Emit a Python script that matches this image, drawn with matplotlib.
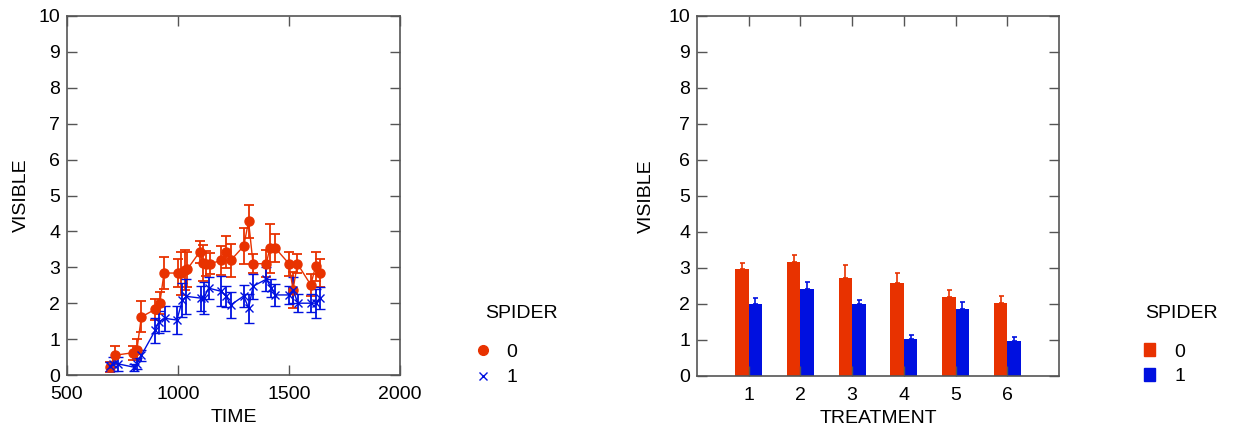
import numpy as np
import matplotlib
matplotlib.use("Agg")
import matplotlib.pyplot as plt
from matplotlib.lines import Line2D
from matplotlib.patches import Patch

plt.rcParams['font.family'] = ['Liberation Sans', 'DejaVu Sans']

RED = "#E83200"
BLUE = "#0010E0"

# ---- left panel: VISIBLE vs TIME, by SPIDER ----
time_0 = [692, 715, 797, 815, 835, 898, 918, 937, 1000, 1015, 1030, 1041, 1098, 1113,
          1128, 1143, 1195, 1218, 1237, 1296, 1318, 1338, 1398, 1413, 1439, 1500, 1518,
          1538, 1598, 1620, 1638]
vis_0 = [0.22, 0.55, 0.62, 0.71, 1.62, 1.83, 2.00, 2.84, 2.84, 2.84, 2.92, 2.94, 3.43, 3.12,
         3.10, 3.10, 3.19, 3.43, 3.19, 3.59, 4.28, 3.10, 3.10, 3.53, 3.53, 3.10, 2.37,
         3.10, 2.51, 3.03, 2.84]
err_0 = [0.15, 0.25, 0.20, 0.30, 0.43, 0.30, 0.30, 0.45, 0.40, 0.60, 0.55, 0.50, 0.30, 0.50,
         0.35, 0.30, 0.40, 0.45, 0.45, 0.50, 0.46, 0.26, 0.37, 0.69, 0.39, 0.33, 0.50,
         0.26, 0.30, 0.40, 0.40]

time_1 = [692, 707, 730, 800, 815, 835, 898, 913, 940, 995, 1020, 1038, 1105, 1116, 1138,
          1195, 1218, 1237, 1296, 1318, 1338, 1398, 1420, 1439, 1500, 1518, 1540, 1601,
          1620, 1638]
vis_1 = [0.24, 0.31, 0.31, 0.22, 0.31, 0.55, 1.25, 1.48, 1.58, 1.53, 2.09, 2.19, 2.14, 2.14,
         2.42, 2.33, 2.19, 1.95, 2.20, 1.86, 2.47, 2.67, 2.42, 2.23, 2.23, 2.37, 2.00, 2.00,
         2.00, 2.14]
err_1 = [0.12, 0.20, 0.20, 0.10, 0.15, 0.15, 0.35, 0.30, 0.35, 0.40, 0.47, 0.48, 0.35, 0.45,
         0.30, 0.42, 0.30, 0.35, 0.31, 0.40, 0.35, 0.33, 0.25, 0.30, 0.24, 0.36, 0.25, 0.25,
         0.40, 0.30]

# ---- right panel: mean VISIBLE by TREATMENT and SPIDER ----
treatment = [1, 2, 3, 4, 5, 6]
bar_0 = [2.96, 3.18, 2.73, 2.57, 2.20, 2.04]
bar_0_err = [0.19, 0.17, 0.36, 0.29, 0.18, 0.17]
bar_1 = [2.00, 2.41, 2.00, 1.03, 1.86, 0.96]
bar_1_err = [0.17, 0.20, 0.10, 0.10, 0.20, 0.11]

spider_levels = ["0", "1"]

FS = 14

fig = plt.figure(figsize=(12.38, 4.34), dpi=100)

def style(ax):
    ax.tick_params(direction="in", length=7, width=1, top=True, right=True, pad=5,
                   labelsize=FS, colors="#555555", labelcolor="black")
    ax.tick_params(axis="x", pad=8)
    for s in ax.spines.values():
        s.set_color("#555555")
        s.set_linewidth(1.2)

# left
ax1 = fig.add_axes([67/1238, 59/434, 333/1238, 359/434])
ax1.errorbar(time_0, vis_0, yerr=err_0, color=RED, marker="o", ms=6.5, lw=1,
             elinewidth=1.3, capsize=3.5, capthick=1.3)
ax1.errorbar(time_1, vis_1, yerr=err_1, color=BLUE, marker="x", ms=6, mew=1, lw=1,
             elinewidth=1.3, capsize=3.5, capthick=1.3)
ax1.set_xlim(500, 2000)
ax1.set_ylim(0, 10)
ax1.set_xticks([500, 1000, 1500, 2000])
ax1.set_yticks(range(0, 11))
ax1.set_xlabel("TIME", fontsize=FS, labelpad=4)
ax1.set_ylabel("VISIBLE", fontsize=FS, labelpad=6)
style(ax1)
h1 = [Line2D([], [], color=RED, marker="o", ls="none", ms=7),
      Line2D([], [], color=BLUE, marker="x", ls="none", ms=6, mew=1)]
ax1.legend(h1, spider_levels, loc="upper left", frameon=False,
           bbox_to_anchor=(458/1238, 1 - 326/434), bbox_transform=fig.transFigure,
           fontsize=FS, handlelength=0.8, handletextpad=0.8, labelspacing=0.4)
fig.text(485/1238, 1 - 313/434, "SPIDER", fontsize=FS, ha="left", va="center")

# right
ax2 = fig.add_axes([697/1238, 58/434, 362/1238, 360/434])
x = np.array(treatment)
w = 0.26
ax2.bar(x - w/2, bar_0, w, color=RED)
ax2.bar(x + w/2, bar_1, w, color=BLUE)
ax2.errorbar(x - w/2, bar_0, yerr=[np.zeros(6), bar_0_err], fmt="none", ecolor=RED,
             elinewidth=1.2, capsize=1.8, capthick=1.2)
ax2.errorbar(x + w/2, bar_1, yerr=[np.zeros(6), bar_1_err], fmt="none", ecolor=BLUE,
             elinewidth=1.2, capsize=1.8, capthick=1.2)
ax2.set_xlim(0, 7)
ax2.set_ylim(0, 10)
ax2.set_xticks(treatment)
ax2.set_yticks(range(0, 11))
ax2.set_xlabel("TREATMENT", fontsize=FS, labelpad=4)
ax2.set_ylabel("VISIBLE", fontsize=FS, labelpad=10)
style(ax2)
h2 = [Patch(color=RED), Patch(color=BLUE)]
ax2.legend(h2, spider_levels, loc="upper left", frameon=False,
           bbox_to_anchor=(1126/1238, 1 - 326/434), bbox_transform=fig.transFigure,
           fontsize=FS, handlelength=0.6, handleheight=0.6,
           handletextpad=1.0, labelspacing=0.4)
fig.text(1145/1238, 1 - 313/434, "SPIDER", fontsize=FS, ha="left", va="center")

fig.savefig("out.png", dpi=100)
